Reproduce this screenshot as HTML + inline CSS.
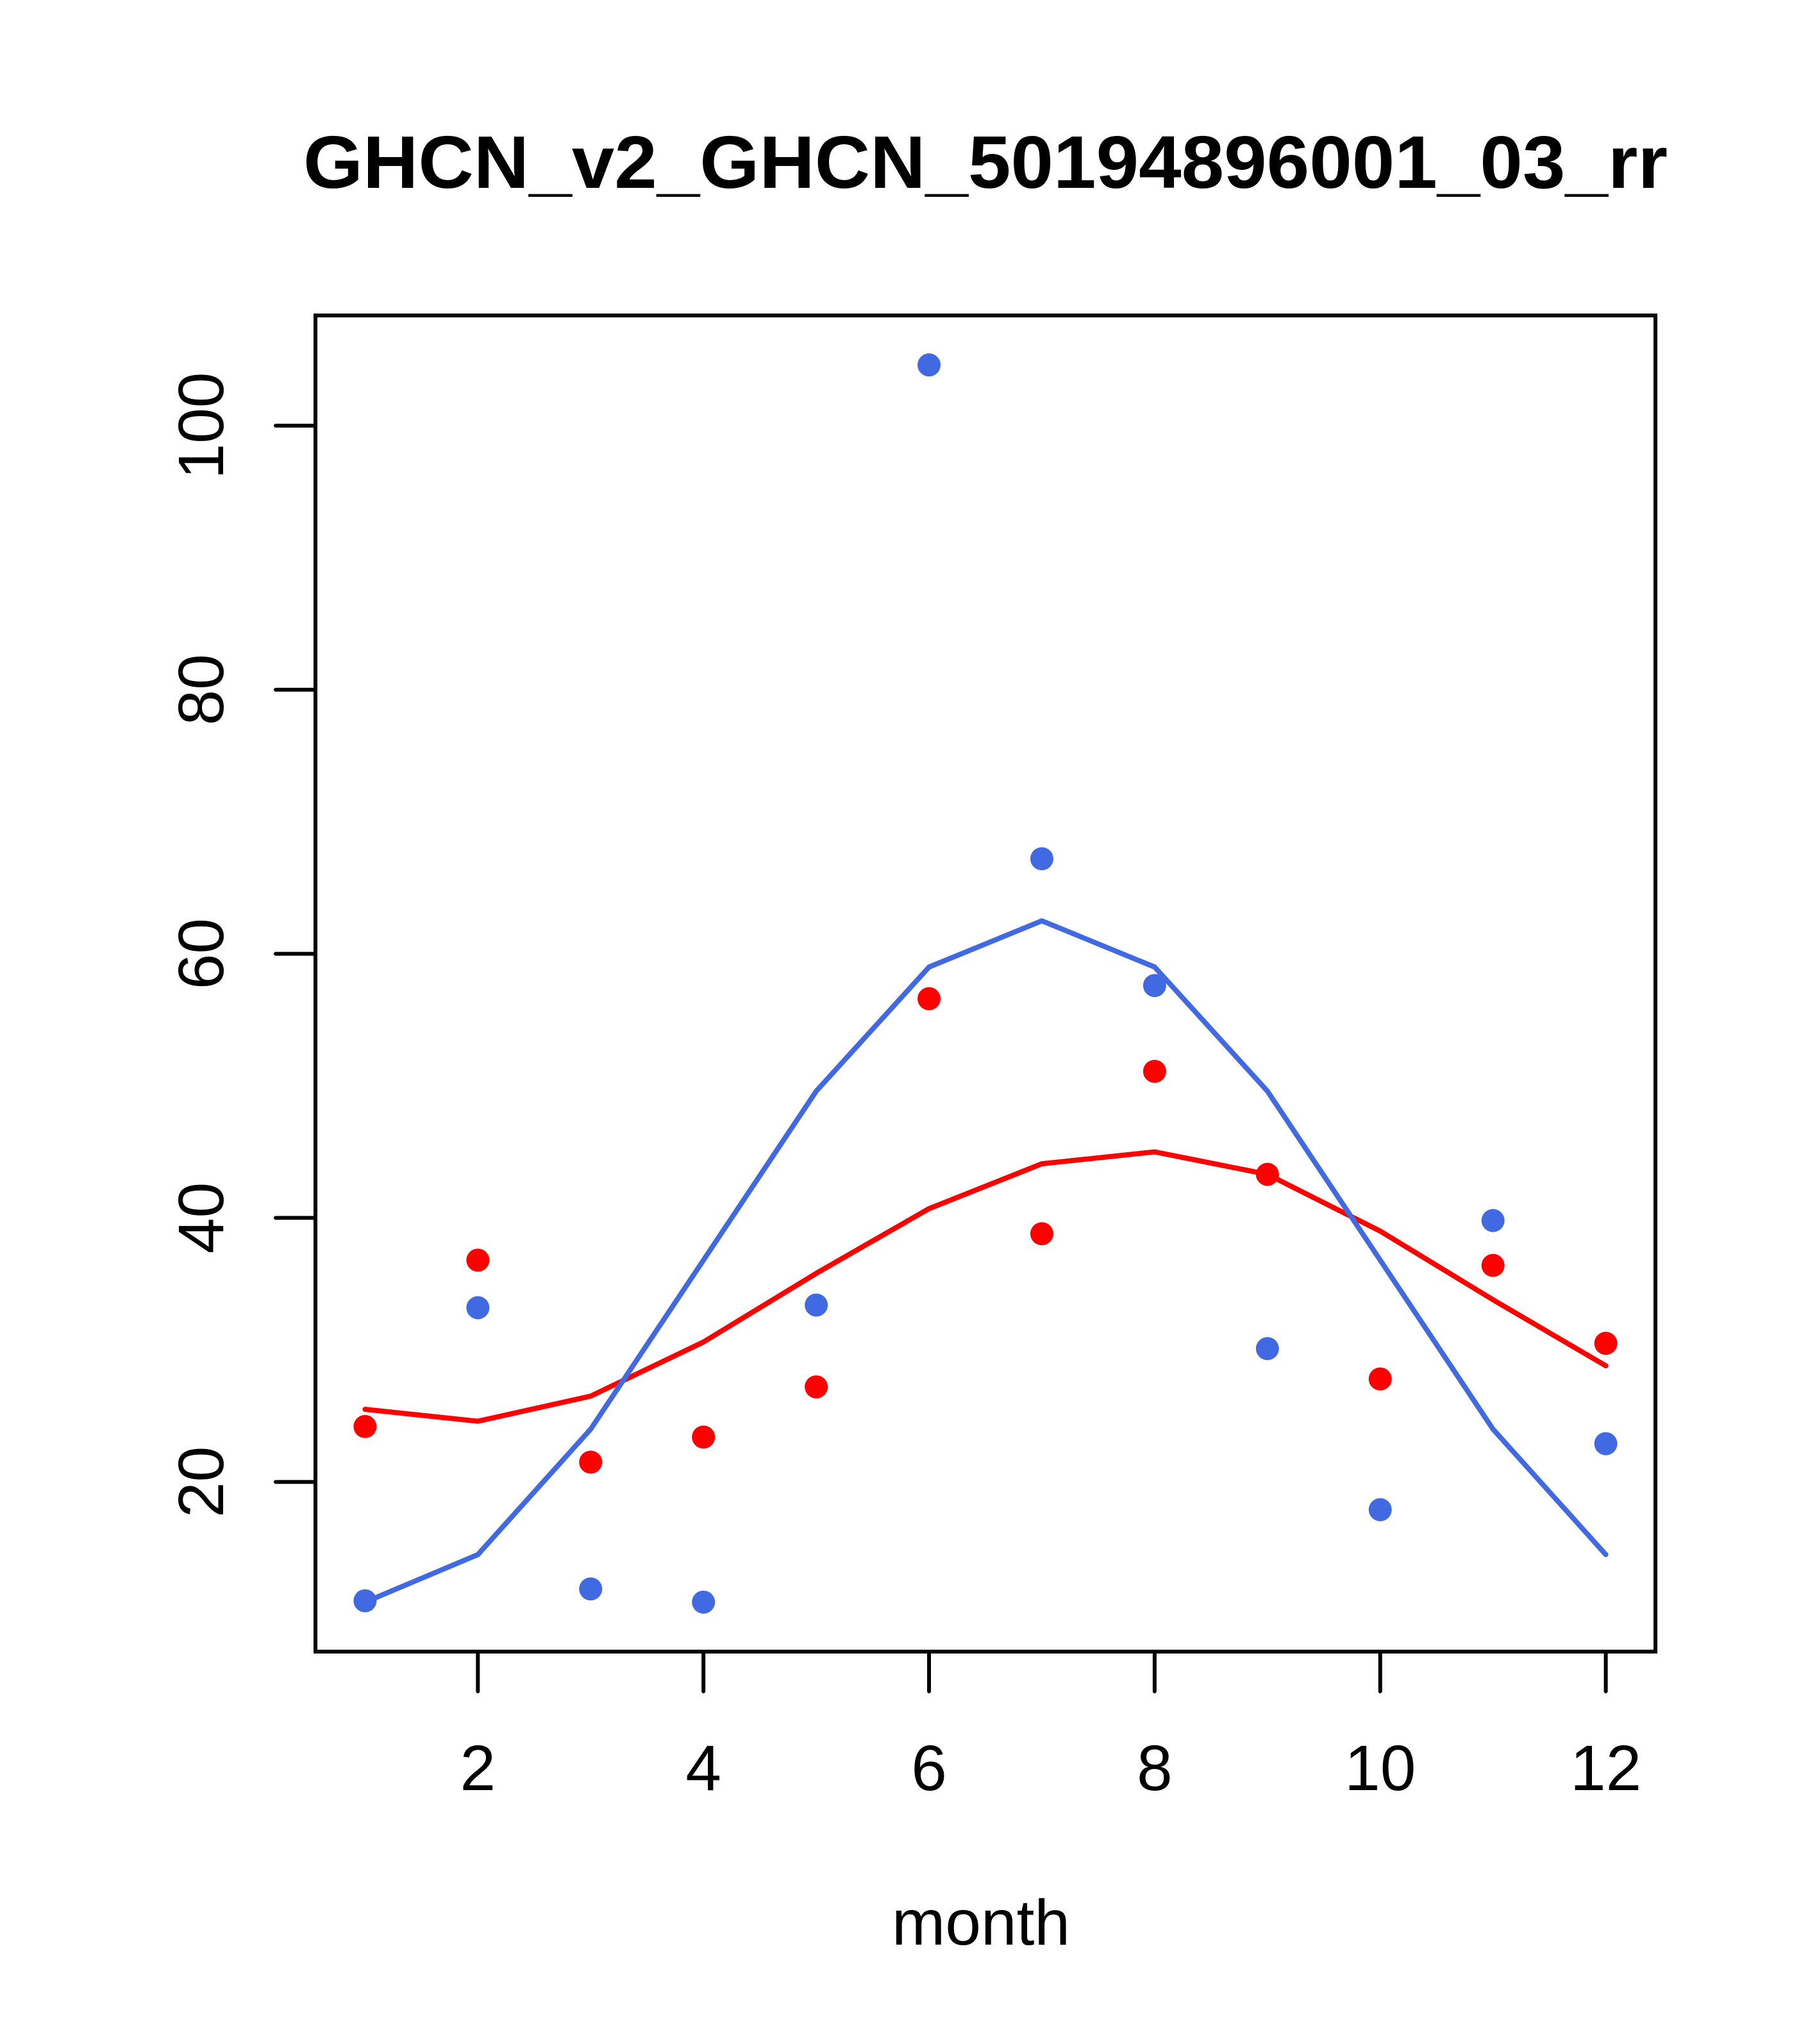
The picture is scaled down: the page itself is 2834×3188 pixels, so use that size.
<!DOCTYPE html>
<html><head><meta charset="utf-8"><style>
html,body{margin:0;padding:0;background:#fff}
svg{display:block;font-family:"Liberation Sans",Arial,sans-serif}
</style></head><body>
<svg id="chart" width="2834" height="3188" viewBox="0 0 2834 3188" xmlns="http://www.w3.org/2000/svg">
<rect width="2834" height="3188" fill="#fff"/>
<text x="1537" y="293" text-anchor="middle" font-weight="bold" font-size="116" textLength="2128" lengthAdjust="spacingAndGlyphs">GHCN_v2_GHCN_50194896001_03_rr</text>
<text x="1530" y="3033" text-anchor="middle" font-size="100">month</text>
<rect x="492" y="492" width="2090" height="2084" fill="none" stroke="#000" stroke-width="6"/>
<g id="axes"></g>
<g id="marks"></g>
</svg>
<script>
const months = [1,2,3,4,5,6,7,8,9,10,11,12];
const redPoints = [24.2,36.8,21.5,23.4,27.2,56.6,38.8,51.1,43.3,27.8,36.4,30.5];
const bluePoints = [11.0,33.2,11.9,10.9,33.4,104.6,67.2,57.6,30.1,17.9,39.8,22.9];
const redLine = [25.5,24.6,26.5,30.6,35.8,40.7,44.1,45.0,43.3,39.0,33.8,28.8];
const blueLine = [10.9,14.5,24.0,36.8,49.6,59.0,62.5,59.0,49.6,36.8,24.0,14.5];
const xTicks = [2,4,6,8,10,12];
const yTicks = [20,40,60,80,100];

const NS = "http://www.w3.org/2000/svg";
const L=492,R=2582,T=492,B=2576;
const xmin=1-11*0.04, xmax=12+11*0.04;
const ymin=10.9-93.7*0.04, ymax=104.6+93.7*0.04;
function X(v){return L+(v-xmin)/(xmax-xmin)*(R-L);}
function Y(v){return B-(v-ymin)/(ymax-ymin)*(B-T);}
function mk(tag,attrs,parent){const e=document.createElementNS(NS,tag);for(const k in attrs)e.setAttribute(k,attrs[k]);parent.appendChild(e);return e;}
const axes=document.getElementById('axes'), marks=document.getElementById('marks');

let e=mk('line',{x1:X(2),x2:X(12),y1:B,y2:B,stroke:'#000','stroke-width':6},axes);


xTicks.forEach(t=>{
  let l=mk('line',{x1:X(t),x2:X(t),y1:B,y2:B+62,stroke:'#000','stroke-width':6,'stroke-linecap':'round'},axes);
  
  
  let tx=mk('text',{x:X(t),y:2792,'text-anchor':'middle','font-size':100},axes);
  tx.textContent=t;
  
  
});
e=mk('line',{x1:L,x2:L,y1:Y(20),y2:Y(100),stroke:'#000','stroke-width':6},axes);


yTicks.forEach(t=>{
  let l=mk('line',{x1:L-62,x2:L,y1:Y(t),y2:Y(t),stroke:'#000','stroke-width':6,'stroke-linecap':'round'},axes);
  
  
  let tx=mk('text',{x:0,y:0,'text-anchor':'middle','font-size':100,transform:`translate(348,${Y(t)}) rotate(-90)`},axes);
  tx.textContent=t;
  
  
});

function line(vals,color,name){
  const p=mk('polyline',{points:vals.map((v,i)=>X(months[i])+','+Y(v)).join(' '),fill:'none',stroke:color,'stroke-width':8,'stroke-linejoin':'round','stroke-linecap':'round'},marks);
  
  
}
function pts(vals,color,name){
  vals.forEach((v,i)=>{
    const c=mk('circle',{cx:X(months[i]),cy:Y(v),r:18,fill:color},marks);
    
    
  });
}
line(redLine,'#ff0000','red-smooth-line');
line(blueLine,'#4169e1','blue-smooth-line');
pts(redPoints,'#ff0000','red-point');
pts(bluePoints,'#4169e1','blue-point');
</script>
</body></html>
